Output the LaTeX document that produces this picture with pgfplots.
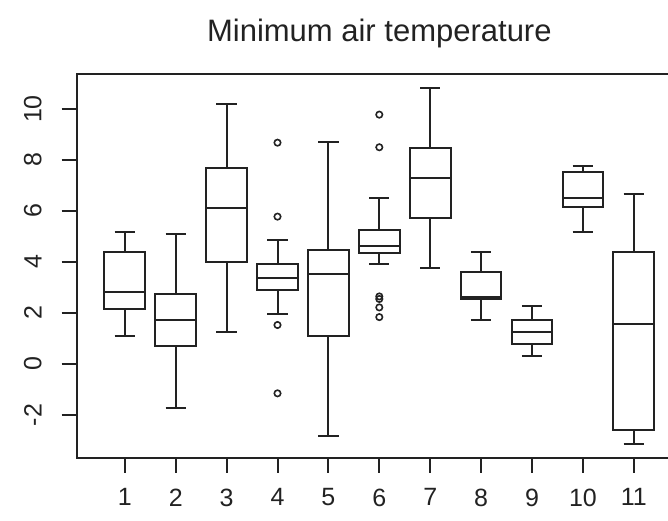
\documentclass[border=0pt]{standalone}
\usepackage{fontspec}
\setmainfont{Liberation Sans}
\usepackage{pgfplots}
\pgfplotsset{compat=1.18}
\usepgfplotslibrary{statistics}
\definecolor{ink}{HTML}{222222}
\pgfplotsset{bx/.style={/pgfplots/boxplot prepared={#1}, ink, line width=1pt, solid, mark=o, mark size=1.6pt, mark options={line width=0.8pt, ink, solid}}}
\begin{document}
\begin{tikzpicture}
\begin{axis}[
  at={(38.35pt,31.15pt)}, anchor=south west,
  scale only axis, width=302.65pt, height=191.85pt,
  xmin=0.055, xmax=11.947, ymin=-3.674, ymax=11.373,
  xtick={1,...,11}, ytick={-2,0,2,4,6,8,10},
  xtick pos=lower, ytick pos=left,
  tick align=outside, major tick length=7.5pt,
  axis line style={line width=1pt, ink},
  every tick/.style={line width=1pt, ink},
  /pgf/number format/assume math mode=true,
  tick label style={font=\fontsize{12.5}{14}\selectfont, text=ink},
  xticklabel style={yshift=-4.5pt},
  yticklabel style={rotate=90, anchor=south, yshift=6.5pt},
  title={Minimum air temperature},
  every axis title/.style={at={(0.5,1)}, anchor=center, yshift=20.5pt, font=\fontsize{15.5}{18}\selectfont, text=ink},
  boxplot/draw direction=y,
  boxplot/box extend=0.8,
  boxplot/whisker extend=0.4,
]
\addplot[bx={lower whisker=1.10, lower quartile=2.14, median=2.84, upper quartile=4.39, upper whisker=5.16, draw position=1}] coordinates {};
\addplot[bx={lower whisker=-1.74, lower quartile=0.72, median=1.73, upper quartile=2.73, upper whisker=5.10, draw position=2}] coordinates {};
\addplot[bx={lower whisker=1.24, lower quartile=4.00, median=6.13, upper quartile=7.70, upper whisker=10.21, draw position=3}] coordinates {};
\addplot[bx={lower whisker=1.96, lower quartile=2.90, median=3.36, upper quartile=3.92, upper whisker=4.86, draw position=4}] table[row sep=\\, y index=0] {8.68\\ 5.78\\ 1.53\\ -1.15\\};
\addplot[bx={lower whisker=-2.82, lower quartile=1.10, median=3.54, upper quartile=4.47, upper whisker=8.72, draw position=5}] coordinates {};
\addplot[bx={lower whisker=3.92, lower quartile=4.34, median=4.64, upper quartile=5.25, upper whisker=6.52, draw position=6}] table[row sep=\\, y index=0] {9.78\\ 8.50\\ 2.65\\ 2.55\\ 2.22\\ 1.84\\};
\addplot[bx={lower whisker=3.76, lower quartile=5.74, median=7.31, upper quartile=8.47, upper whisker=10.82, draw position=7}] coordinates {};
\addplot[bx={lower whisker=1.73, lower quartile=2.54, median=2.64, upper quartile=3.61, upper whisker=4.39, draw position=8}] coordinates {};
\addplot[bx={lower whisker=0.31, lower quartile=0.78, median=1.25, upper quartile=1.73, upper whisker=2.26, draw position=9}] coordinates {};
\addplot[bx={lower whisker=5.18, lower quartile=6.14, median=6.52, upper quartile=7.53, upper whisker=7.76, draw position=10}] coordinates {};
\addplot[bx={lower whisker=-3.14, lower quartile=-2.59, median=1.57, upper quartile=4.38, upper whisker=6.65, draw position=11}] coordinates {};
\end{axis}
\pgfresetboundingbox
\useasboundingbox (0,0) rectangle (334pt,260pt);
\end{tikzpicture}
\end{document}
